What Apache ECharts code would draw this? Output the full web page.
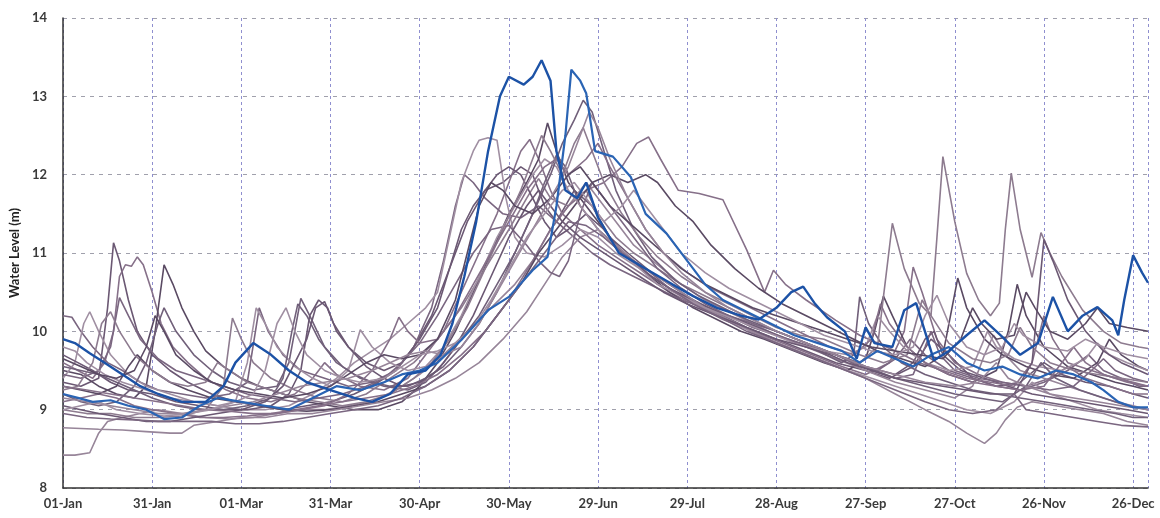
<!DOCTYPE html>
<html>
<head>
<meta charset="utf-8">
<title>Water Level</title>
<script src="https://cdn.jsdelivr.net/npm/echarts@6/dist/echarts.min.js"></script>
<style>
  html, body { margin: 0; padding: 0; background: #fff; }
  #chart { width: 1160px; height: 518px; }
</style>
</head>
<body>
<div id="chart"></div>
<script>
// tick labels, one every 30 days starting 01-Jan (leap year)
const tickLabels = ['01-Jan', '31-Jan', '01-Mar', '31-Mar', '30-Apr', '30-May', '29-Jun',
  '29-Jul', '28-Aug', '27-Sep', '27-Oct', '26-Nov', '26-Dec']

// [day of year, water level m]
const blueA = [[0,9.9],[4,9.85],[9,9.72],[14,9.6],[20,9.45],[26,9.3],[32,9.2],[40,9.1],[48,9.1],[54,9.3],[58,9.6],[64,9.85],[70,9.7],[76,9.5],[82,9.35],[90,9.25],[98,9.15],[104,9.1],[110,9.2],[116,9.45],[122,9.5],[127,9.7],[131,10.1],[135,10.7],[139,11.4],[143,12.3],[147,13.0],[150,13.25],[155,13.15],[158,13.25],[161,13.46],[164,13.2],[166,12.3],[169,11.8],[173,11.7],[176,11.9],[180,11.45],[187,11.0],[196,10.8],[205,10.6],[212,10.45],[220,10.3],[228,10.2],[234,10.15],[240,10.3],[245,10.5],[249,10.57],[253,10.35],[257,10.18],[263,10.0],[267,9.65],[270,10.05],[273,9.85],[279,9.8],[283,10.27],[287,10.36],[293,9.63],[298,9.75],[304,9.95],[310,10.14],[316,9.93],[322,9.7],[328,9.85],[333,10.44],[338,10.0],[343,10.2],[348,10.31],[353,10.14],[355,9.95],[357,10.4],[360,10.97],[363,10.75],[365,10.62]]
const blueB = [[0,9.2],[5,9.15],[10,9.1],[16,9.12],[22,9.05],[28,9.0],[34,8.88],[40,8.9],[46,9.05],[52,9.15],[60,9.1],[68,9.05],[76,9.0],[84,9.15],[92,9.3],[100,9.25],[108,9.35],[114,9.45],[120,9.5],[126,9.6],[134,9.89],[143,10.27],[150,10.44],[158,10.78],[163,10.95],[166,11.6],[169,12.5],[171,13.34],[174,13.2],[176,13.04],[179,12.3],[185,12.23],[191,11.97],[196,11.5],[203,11.25],[210,10.9],[216,10.6],[222,10.4],[230,10.25],[238,10.1],[246,9.95],[254,9.85],[262,9.75],[268,9.6],[274,9.75],[280,9.65],[286,9.55],[292,9.7],[298,9.8],[304,9.6],[310,9.5],[316,9.55],[322,9.45],[328,9.4],[334,9.5],[340,9.45],[346,9.35],[350,9.25],[355,9.1],[360,9.03],[365,9.03]]

const g1 = [[0,9.35],[6,9.3],[12,9.4],[15,10.3],[17,11.13],[19,10.9],[22,10.4],[25,10.0],[30,9.7],[36,9.5],[42,9.35],[50,9.2],[58,9.1],[66,9.05],[74,9.0],[82,9.05],[90,9.1],[98,9.2],[106,9.35],[112,9.5],[118,9.8],[124,10.2],[130,10.8],[136,11.4],[142,11.8],[148,11.9],[154,12.1],[158,12.0],[162,11.6],[166,11.4],[172,11.8],[178,11.6],[184,11.2],[190,11.0],[198,10.75],[206,10.55],[214,10.35],[222,10.2],[230,10.05],[240,9.9],[250,9.75],[260,9.6],[270,9.5],[278,9.4],[286,9.55],[292,9.9],[298,9.7],[306,9.4],[314,9.3],[322,9.35],[330,9.6],[336,9.45],[344,9.35],[352,9.3],[360,9.2],[365,9.15]]
const g2 = [[0,9.6],[5,9.5],[10,9.4],[14,9.6],[17,10.0],[19,10.7],[21,10.85],[23,10.83],[25,10.95],[27,10.85],[30,10.5],[33,10.1],[37,9.8],[42,9.6],[48,9.4],[55,9.25],[62,9.15],[70,9.1],[78,9.2],[84,9.4],[88,9.6],[92,9.45],[100,9.3],[108,9.25],[116,9.4],[122,9.7],[128,10.0],[134,10.5],[140,11.0],[146,11.5],[150,11.9],[154,12.3],[157,12.45],[160,12.2],[164,11.8],[168,11.5],[174,11.3],[180,11.1],[188,10.9],[196,10.7],[204,10.5],[212,10.35],[222,10.15],[232,10.0],[242,9.85],[252,9.7],[262,9.55],[270,9.45],[278,9.6],[283,10.0],[286,10.82],[289,10.5],[294,9.9],[300,9.6],[308,9.45],[316,9.35],[324,9.3],[332,9.4],[338,9.55],[344,9.4],[352,9.3],[360,9.2],[365,9.2]]
const g3 = [[0,9.5],[6,9.45],[12,9.3],[18,9.2],[24,9.15],[28,9.3],[31,10.0],[34,10.85],[37,10.6],[40,10.3],[44,10.0],[48,9.75],[54,9.55],[60,9.4],[66,9.3],[74,9.2],[82,9.1],[90,9.05],[98,9.0],[106,9.0],[114,9.1],[120,9.3],[126,9.6],[132,10.0],[138,10.5],[144,11.0],[150,11.5],[156,11.9],[160,12.2],[163,12.66],[166,12.3],[170,11.9],[176,11.6],[182,11.3],[188,11.0],[196,10.75],[204,10.5],[212,10.3],[220,10.15],[228,10.0],[236,9.9],[246,9.75],[256,9.6],[264,9.5],[270,9.65],[273,10.0],[276,10.45],[279,10.2],[284,9.8],[290,9.6],[298,9.45],[306,9.35],[314,9.5],[318,10.0],[321,10.6],[324,10.2],[330,9.8],[338,9.55],[346,9.45],[354,9.35],[360,9.3],[365,9.25]]
const g4 = [[0,8.42],[4,8.42],[9,8.45],[12,8.7],[15,8.85],[20,8.9],[26,8.95],[32,9.0],[40,8.95],[48,8.9],[56,8.88],[64,8.9],[72,8.95],[80,9.0],[88,9.0],[96,9.05],[104,9.1],[112,9.25],[120,9.45],[128,9.7],[136,10.0],[144,10.3],[152,10.6],[158,10.9],[164,11.3],[170,11.6],[176,11.9],[180,11.7],[186,11.4],[192,11.1],[200,10.85],[208,10.6],[216,10.4],[224,10.25],[232,10.1],[240,9.95],[250,9.8],[260,9.65],[270,9.5],[280,9.35],[290,9.25],[300,9.15],[306,9.3],[310,9.7],[313,9.95],[317,9.7],[322,9.5],[330,9.4],[338,9.3],[346,9.2],[354,9.1],[360,9.05],[365,9.0]]
const g5 = [[0,10.2],[3,10.18],[6,10.0],[10,9.8],[15,9.6],[20,9.5],[26,9.35],[32,9.25],[40,9.2],[48,9.15],[56,9.2],[62,9.35],[66,10.3],[69,10.0],[74,9.7],[80,9.5],[88,9.4],[96,9.3],[104,9.35],[112,9.5],[118,9.8],[124,10.3],[128,10.9],[132,11.6],[135,12.0],[138,11.9],[142,11.7],[148,11.5],[154,11.45],[160,11.6],[166,11.4],[172,11.2],[178,11.0],[184,10.85],[192,10.7],[200,10.55],[208,10.4],[216,10.3],[224,10.2],[232,10.1],[240,10.0],[250,9.85],[260,9.7],[268,9.55],[274,9.5],[280,9.65],[285,9.9],[290,9.7],[298,9.5],[306,9.4],[314,9.3],[322,9.25],[330,9.35],[338,9.5],[345,9.7],[350,9.5],[356,9.4],[362,9.3],[365,9.3]]
const g6 = [[0,9.4],[4,9.6],[7,10.1],[9,10.25],[12,10.0],[16,9.7],[22,9.45],[28,9.3],[36,9.2],[44,9.1],[52,9.05],[60,9.0],[68,9.0],[76,9.05],[84,9.2],[92,9.4],[98,9.6],[104,9.75],[110,9.9],[116,10.1],[122,10.3],[126,10.5],[130,11.2],[134,11.9],[138,12.3],[140,12.44],[143,12.47],[146,12.44],[149,11.7],[152,11.2],[156,11.0],[162,10.95],[168,11.1],[174,11.3],[180,11.2],[186,11.0],[194,10.8],[202,10.6],[210,10.4],[218,10.25],[226,10.1],[234,9.95],[244,9.8],[254,9.65],[264,9.5],[272,9.4],[280,9.3],[288,9.2],[296,9.1],[304,9.0],[312,8.95],[320,9.1],[326,9.35],[332,9.2],[340,9.1],[348,9.0],[356,8.95],[365,8.9]]
const g7 = [[0,9.2],[6,9.1],[12,9.05],[18,9.1],[24,9.3],[28,9.6],[32,10.1],[34,10.3],[38,10.0],[44,9.7],[50,9.5],[56,9.35],[64,9.25],[72,9.3],[76,9.6],[80,10.42],[83,10.2],[88,9.8],[94,9.55],[100,9.4],[108,9.3],[116,9.25],[122,9.35],[128,9.6],[134,9.9],[140,10.2],[146,10.6],[152,11.0],[158,11.5],[162,11.9],[166,12.25],[169,12.1],[174,11.6],[180,11.3],[186,11.1],[192,10.9],[198,10.7],[206,10.5],[214,10.35],[224,10.2],[234,10.05],[244,9.9],[254,9.75],[262,9.6],[266,9.7],[268,10.44],[271,10.1],[276,9.8],[282,9.6],[290,9.45],[298,9.35],[306,9.25],[314,9.2],[322,9.15],[330,9.1],[338,9.05],[346,9.0],[354,8.95],[360,8.9],[365,8.9]]
const g8 = [[0,9.0],[8,8.95],[16,8.95],[24,8.9],[32,8.9],[40,8.92],[48,9.0],[54,9.3],[57,10.17],[60,9.9],[64,9.6],[70,9.4],[78,9.25],[86,9.15],[94,9.1],[102,9.2],[110,9.4],[118,9.6],[126,9.9],[134,10.3],[142,10.8],[150,11.3],[156,11.7],[160,11.95],[164,11.7],[170,11.6],[176,11.8],[180,11.5],[186,11.2],[192,11.0],[200,10.8],[208,10.6],[216,10.45],[224,10.3],[232,10.15],[240,10.0],[250,9.85],[260,9.7],[268,9.6],[274,9.8],[276,10.44],[279,11.38],[283,10.8],[288,10.36],[292,10.2],[294,11.2],[296,12.23],[300,11.4],[304,10.74],[308,10.4],[312,10.2],[315,10.36],[317,11.3],[319,12.02],[322,11.3],[326,10.69],[329,11.26],[332,11.0],[336,10.7],[343,10.27],[350,10.0],[356,9.85],[362,9.8],[365,9.78]]
const g9 = [[0,9.7],[5,9.6],[10,9.5],[16,9.35],[22,9.25],[30,9.2],[38,9.1],[46,9.05],[54,9.0],[62,9.0],[70,9.05],[76,9.2],[80,9.5],[83,10.2],[86,10.4],[89,10.3],[92,10.0],[96,9.8],[102,9.6],[108,9.5],[114,9.6],[120,9.9],[126,10.3],[130,10.8],[134,11.3],[138,11.6],[142,11.8],[146,12.0],[150,12.1],[154,12.0],[158,11.7],[162,11.4],[166,11.2],[170,11.3],[176,11.5],[182,11.3],[188,11.0],[196,10.75],[204,10.55],[212,10.4],[220,10.25],[230,10.1],[240,9.95],[250,9.8],[260,9.7],[270,9.55],[280,9.45],[286,9.6],[290,9.9],[293,10.0],[296,9.7],[302,9.5],[310,9.4],[318,9.3],[326,9.2],[334,9.15],[342,9.1],[350,9.05],[358,9.0],[365,8.95]]
const g10 = [[0,9.1],[6,9.15],[12,9.2],[18,9.15],[24,9.05],[30,9.0],[38,8.95],[46,8.9],[54,8.9],[62,8.92],[70,8.95],[78,9.0],[86,9.05],[94,9.1],[102,9.15],[110,9.2],[118,9.3],[126,9.45],[134,9.7],[142,10.0],[150,10.4],[158,10.9],[164,11.3],[170,11.6],[176,11.8],[182,11.9],[188,12.1],[193,12.4],[197,12.48],[201,12.2],[207,11.8],[214,11.76],[222,11.68],[230,11.04],[236,10.5],[239,10.78],[243,10.6],[250,10.4],[260,10.14],[268,9.95],[274,9.85],[280,9.75],[288,9.6],[296,9.5],[304,9.4],[312,9.35],[320,9.3],[326,9.6],[330,10.2],[333,9.9],[338,9.6],[346,9.5],[354,9.4],[360,9.35],[365,9.3]]
const g11 = [[0,9.3],[6,9.25],[12,9.2],[18,9.3],[22,9.55],[25,9.7],[30,9.5],[36,9.35],[42,9.25],[50,9.15],[58,9.1],[66,9.05],[74,9.0],[82,8.98],[90,9.0],[98,9.05],[106,9.1],[114,9.2],[122,9.3],[130,9.5],[138,9.8],[146,10.2],[154,10.6],[160,11.0],[166,11.3],[172,11.6],[178,11.9],[184,12.0],[190,11.9],[196,12.0],[200,11.9],[206,11.6],[212,11.4],[218,11.1],[226,10.8],[234,10.55],[242,10.35],[250,10.2],[258,10.05],[266,9.9],[274,9.75],[282,9.65],[290,9.55],[296,9.7],[301,10.68],[304,10.3],[310,9.9],[316,9.7],[324,9.55],[332,9.45],[340,9.4],[348,9.6],[352,9.9],[356,9.7],[362,9.55],[365,9.5]]
const g12 = [[0,8.77],[6,8.76],[12,8.75],[20,8.74],[28,8.72],[36,8.7],[40,8.7],[44,8.8],[52,8.85],[60,8.9],[68,8.9],[76,8.95],[84,8.95],[92,9.0],[100,9.05],[108,9.1],[116,9.15],[124,9.25],[132,9.4],[140,9.6],[148,9.9],[156,10.25],[162,10.6],[168,10.95],[174,11.2],[180,11.3],[186,11.1],[192,10.9],[200,10.7],[208,10.5],[216,10.3],[224,10.15],[232,10.0],[240,9.85],[250,9.7],[260,9.55],[270,9.4],[280,9.2],[290,9.0],[298,8.85],[304,8.7],[310,8.57],[314,8.7],[317,8.87],[321,9.03],[326,9.1],[334,9.05],[342,9.0],[350,8.95],[358,8.85],[365,8.8]]
const g13 = [[0,9.45],[6,9.4],[12,9.5],[16,9.8],[19,10.43],[22,10.2],[26,9.9],[32,9.65],[38,9.5],[46,9.4],[54,9.3],[62,9.2],[70,9.15],[78,9.1],[86,9.15],[94,9.2],[102,9.3],[108,9.4],[114,9.6],[120,9.85],[126,10.2],[132,10.6],[138,11.0],[144,11.3],[150,11.35],[156,11.1],[160,10.9],[164,10.75],[167,10.7],[170,10.9],[174,11.5],[178,11.9],[182,11.7],[188,11.4],[194,11.1],[200,10.8],[208,10.55],[216,10.35],[224,10.2],[232,10.05],[240,9.95],[248,9.85],[256,9.75],[264,9.65],[272,9.5],[280,9.4],[286,9.45],[290,9.8],[292,10.0],[295,9.7],[300,9.5],[308,9.4],[316,9.35],[324,9.3],[332,9.25],[340,9.3],[346,9.5],[350,9.65],[354,9.5],[360,9.4],[365,9.35]]
const g14 = [[0,9.8],[4,9.75],[8,9.6],[14,9.45],[20,9.35],[28,9.25],[36,9.15],[44,9.1],[52,9.05],[58,9.1],[62,9.6],[65,10.3],[68,10.1],[72,9.8],[78,9.55],[84,9.4],[90,9.3],[96,9.5],[100,10.02],[104,9.8],[110,9.6],[116,9.5],[122,9.55],[128,9.8],[134,10.2],[140,10.7],[146,11.2],[152,11.6],[158,12.0],[162,12.2],[166,12.1],[170,11.8],[176,11.5],[182,11.2],[188,11.0],[194,10.8],[200,10.6],[208,10.45],[216,10.3],[226,10.15],[236,10.0],[246,9.85],[256,9.75],[264,9.7],[270,9.8],[274,10.2],[278,10.0],[284,9.75],[290,9.6],[298,9.5],[306,9.55],[311,10.0],[314,9.8],[320,9.65],[328,9.55],[336,9.5],[344,9.65],[348,9.85],[352,9.7],[358,9.6],[365,9.5]]
const g15 = [[0,9.55],[6,9.5],[12,9.45],[18,9.35],[24,9.25],[30,9.15],[38,9.05],[46,9.0],[54,9.0],[62,9.05],[70,9.15],[74,9.4],[77,10.0],[79,10.35],[82,10.2],[86,9.9],[92,9.6],[98,9.45],[104,9.35],[110,9.3],[116,9.3],[122,9.4],[128,9.55],[134,9.8],[140,10.1],[146,10.5],[152,11.0],[158,11.5],[164,12.0],[168,12.4],[172,12.7],[175,12.95],[178,12.8],[182,12.3],[186,11.8],[192,11.3],[198,10.95],[206,10.65],[214,10.45],[222,10.3],[230,10.15],[240,10.0],[250,9.85],[260,9.7],[270,9.55],[280,9.4],[290,9.3],[300,9.2],[308,9.15],[316,9.1],[324,9.3],[329,9.6],[334,9.4],[342,9.25],[350,9.15],[358,9.05],[365,9.0]]
const g16 = [[0,9.25],[5,9.3],[10,9.6],[13,10.1],[16,10.25],[19,10.0],[24,9.7],[30,9.5],[36,9.35],[42,9.3],[48,9.35],[52,9.6],[56,9.5],[62,9.35],[70,9.25],[78,9.15],[86,9.1],[94,9.05],[102,9.1],[110,9.2],[118,9.4],[124,9.6],[130,9.9],[136,10.3],[142,10.8],[148,11.3],[154,11.8],[158,12.2],[161,12.5],[164,12.3],[168,12.0],[172,12.4],[175,12.6],[178,12.3],[182,11.9],[188,11.5],[194,11.2],[200,10.95],[208,10.7],[216,10.5],[224,10.35],[232,10.2],[240,10.05],[248,9.95],[256,9.9],[262,9.8],[268,9.7],[276,9.6],[284,9.7],[289,10.4],[292,10.2],[298,9.85],[306,9.65],[312,9.6],[318,9.7],[322,10.05],[326,9.8],[332,9.6],[340,9.5],[348,9.45],[356,9.4],[365,9.35]]
const g17 = [[0,9.05],[6,9.0],[12,8.95],[20,8.9],[28,8.85],[36,8.85],[44,8.9],[52,8.95],[60,9.0],[68,9.1],[74,9.3],[78,9.6],[82,9.9],[85,10.3],[88,10.38],[91,10.1],[96,9.8],[102,9.55],[108,9.4],[114,9.3],[120,9.35],[126,9.5],[132,9.8],[138,10.2],[144,10.7],[150,11.2],[156,11.6],[160,11.8],[164,11.6],[168,11.4],[174,11.2],[180,11.05],[186,10.9],[194,10.7],[202,10.5],[210,10.35],[220,10.2],[230,10.05],[240,9.9],[250,9.8],[258,9.7],[264,9.6],[272,9.5],[280,9.4],[288,9.35],[296,9.3],[304,9.25],[312,9.2],[320,9.2],[326,9.6],[330,11.17],[333,10.9],[338,10.4],[344,10.0],[350,9.75],[356,9.6],[362,9.5],[365,9.45]]
const g18 = [[0,9.3],[8,9.25],[16,9.2],[24,9.15],[32,9.1],[40,9.05],[48,9.0],[56,8.98],[64,8.95],[72,8.95],[80,9.0],[88,9.05],[96,9.2],[104,9.5],[110,9.9],[113,10.18],[116,10.0],[120,9.85],[126,9.9],[132,10.2],[138,10.6],[144,11.0],[150,11.4],[156,11.8],[162,12.1],[166,12.2],[170,12.0],[176,12.2],[180,12.4],[184,12.1],[190,11.7],[196,11.3],[202,11.0],[210,10.75],[218,10.55],[226,10.4],[234,10.25],[242,10.1],[250,9.95],[258,9.8],[266,9.7],[272,9.9],[275,10.35],[278,10.1],[284,9.8],[290,9.6],[298,9.45],[306,9.35],[314,9.3],[322,9.25],[330,9.3],[336,9.6],[340,9.8],[344,9.6],[350,9.45],[358,9.35],[365,9.3]]
const g19 = [[0,9.65],[6,9.55],[12,9.45],[18,9.4],[24,9.5],[28,9.8],[31,10.2],[34,10.0],[38,9.7],[44,9.5],[50,9.35],[58,9.25],[66,9.2],[74,9.15],[82,9.2],[90,9.3],[96,9.45],[102,9.6],[108,9.7],[114,9.65],[120,9.7],[126,9.9],[132,10.4],[136,11.0],[140,11.6],[144,11.9],[148,11.8],[152,11.6],[158,11.5],[164,11.7],[170,12.0],[174,12.1],[178,11.9],[184,11.6],[190,11.4],[196,11.2],[202,11.0],[208,10.8],[216,10.6],[224,10.45],[232,10.3],[240,10.2],[248,10.1],[256,10.0],[264,9.9],[272,9.8],[280,9.75],[288,9.7],[296,9.65],[302,9.9],[306,10.3],[309,10.1],[314,9.9],[320,9.95],[324,10.5],[327,10.3],[332,10.0],[338,9.9],[344,10.1],[348,10.3],[352,10.1],[358,10.05],[365,10.0]]
const g20 = [[0,9.15],[8,9.1],[16,9.05],[24,9.0],[32,8.95],[40,8.95],[48,9.0],[56,9.05],[64,9.1],[72,9.2],[80,9.3],[88,9.35],[96,9.4],[104,9.5],[110,9.6],[116,9.7],[122,9.75],[128,9.7],[134,9.8],[140,10.1],[146,10.5],[152,10.9],[158,11.3],[164,11.7],[170,12.1],[174,12.5],[177,12.8],[180,12.6],[184,12.2],[190,11.7],[196,11.3],[202,11.0],[208,10.75],[216,10.5],[224,10.3],[232,10.15],[240,10.0],[250,9.85],[260,9.7],[270,9.55],[280,9.45],[290,9.35],[300,9.3],[308,9.35],[314,9.6],[318,9.4],[324,9.3],[332,9.2],[340,9.15],[348,9.1],[356,9.05],[365,9.0]]
const g21 = [[0,8.95],[8,8.9],[16,8.88],[24,8.87],[32,8.85],[40,8.85],[50,8.85],[58,8.82],[66,8.82],[74,8.85],[82,8.9],[90,8.95],[98,9.0],[106,9.05],[114,9.15],[122,9.3],[130,9.5],[138,9.8],[146,10.2],[154,10.6],[160,10.9],[166,11.2],[170,11.4],[176,11.35],[182,11.2],[188,11.0],[196,10.8],[204,10.55],[212,10.35],[220,10.2],[230,10.0],[240,9.85],[250,9.7],[260,9.55],[270,9.4],[280,9.25],[290,9.1],[298,9.0],[306,8.95],[314,9.0],[320,9.2],[324,9.0],[332,8.95],[340,8.9],[348,8.85],[356,8.8],[365,8.78]]
const g22 = [[0,9.0],[6,9.05],[12,9.1],[18,9.0],[26,8.95],[34,8.92],[42,8.95],[50,9.0],[58,9.1],[64,9.2],[68,9.5],[72,10.1],[75,10.3],[78,10.0],[82,9.7],[88,9.5],[94,9.4],[100,9.35],[108,9.4],[114,9.55],[120,9.7],[126,9.75],[132,9.85],[138,10.05],[144,10.4],[150,10.8],[156,11.2],[162,11.5],[168,11.8],[172,11.9],[176,11.7],[182,11.4],[188,11.6],[192,11.8],[196,11.6],[202,11.3],[208,11.0],[216,10.75],[224,10.55],[232,10.4],[240,10.25],[248,10.1],[256,9.95],[264,9.85],[272,9.75],[280,9.7],[286,9.8],[290,10.2],[294,10.46],[298,10.1],[304,9.8],[310,9.7],[316,9.8],[320,10.1],[323,9.95],[330,9.8],[338,9.75],[344,9.9],[350,9.8],[358,9.7],[365,9.65]]

const grayYears = [g1, g2, g3, g4, g5, g6, g7, g8, g9, g10, g11, g12, g13, g14, g15, g16, g17, g18, g19, g20, g21, g22]
const grayColors = ['#6b5873', '#867089', '#5a4a63', '#978599', '#7a6680', '#a08fa2', '#71607a', '#8d7b8f']

const chart = echarts.init(document.getElementById('chart'))

const series = grayYears.map((d, i) => ({
  type: 'line',
  data: d,
  symbol: 'none',
  smooth: false,
  lineStyle: { width: 1.6, color: grayColors[i % grayColors.length] },
  z: 2
}))
series.push({
  type: 'line', data: blueB, symbol: 'none',
  lineStyle: { width: 2.2, color: '#2a64b4' }, z: 3
})
series.push({
  type: 'line', data: blueA, symbol: 'none',
  lineStyle: { width: 2.4, color: '#1c52a6' }, z: 4
})

const labelFont = { fontFamily: 'Lato, "Open Sans", sans-serif', fontWeight: 'bold', color: '#3a3a3a' }

chart.setOption({
  animation: false,
  grid: { left: 62, right: 12, top: 18, bottom: 30 },
  xAxis: {
    type: 'value',
    min: 0,
    max: 365,
    interval: 30,
    axisLine: { show: true, lineStyle: { color: '#333', width: 1.5 } },
    axisTick: { show: false },
    axisLabel: {
      ...labelFont,
      fontSize: 13,
      margin: 9,
      showMaxLabel: false,
      formatter: v => (v % 30 === 0 ? tickLabels[v / 30] : '')
    },
    splitLine: { show: true, lineStyle: { color: '#8f8fcf', type: [3, 3], width: 1 } }
  },
  yAxis: {
    type: 'value',
    min: 8,
    max: 14,
    interval: 1,
    name: 'Water Level (m)',
    nameLocation: 'middle',
    nameRotate: 90,
    nameGap: 42,
    nameTextStyle: { ...labelFont, fontSize: 13, color: '#222' },
    axisLine: { show: true, lineStyle: { color: '#333', width: 1.5 } },
    axisTick: { show: false },
    axisLabel: { ...labelFont, fontSize: 13, margin: 16 },
    splitLine: { show: true, lineStyle: { color: '#a0a0ac', type: [4, 5], width: 1 } }
  },
  series: series
})
</script>
</body>
</html>
